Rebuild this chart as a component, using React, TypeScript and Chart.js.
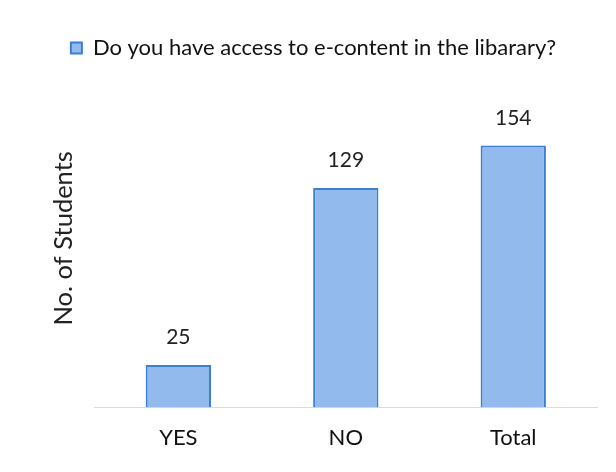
import React, { useEffect, useRef } from "react";
import { Chart, registerables } from "chart.js";

Chart.register(...registerables);

const categories = ["YES", "NO", "Total"];
const students = [25, 129, 154];
const seriesLabel = "Do you have access to e-content in the libarary?";
const yTitle = "No. of Students";

const FONT = "Lato, 'Open Sans', sans-serif";

const valueLabels = {
  id: "valueLabels",
  afterDatasetsDraw(chart: any) {
    const ctx = chart.ctx;
    const meta = chart.getDatasetMeta(0);
    ctx.save();
    ctx.font = `21px ${FONT}`;
    ctx.fillStyle = "#222";
    ctx.textAlign = "center";
    ctx.textBaseline = "bottom";
    meta.data.forEach((bar: any, i: number) => {
      ctx.fillText(String(chart.data.datasets[0].data[i]), bar.x, bar.y - 17);
    });
    ctx.restore();
  },
};

export default function App() {
  const ref = useRef<HTMLCanvasElement>(null);
  useEffect(() => {
    const chart = new Chart(ref.current!, {
      type: "bar",
      data: {
        labels: categories,
        datasets: [
          {
            label: seriesLabel,
            data: students,
            backgroundColor: "#93baec",
            borderColor: "#3b7fd2",
            borderWidth: 2,
            barPercentage: 0.39,
            categoryPercentage: 1,
          },
        ],
      },
      plugins: [valueLabels],
      options: {
        animation: false,
        responsive: false,
        layout: { padding: { left: 22, right: 11, top: 0, bottom: 4 } },
        plugins: {
          legend: {
            display: true,
            position: "top",
            labels: {
              font: { family: FONT, size: 22 },
              color: "#111",
              boxWidth: 11,
              boxHeight: 11,
              padding: 29,
            },
          },
          tooltip: { enabled: false },
        },
        scales: {
          x: {
            grid: { display: false, drawTicks: false, tickLength: 0 },
            border: { display: true, color: "#e3d9d9", width: 1 },
            ticks: { font: { family: FONT, size: 22 }, color: "#111", padding: 17 },
          },
          y: {
            min: 0,
            max: 199,
            grid: { display: false },
            border: { display: false },
            ticks: { display: false },
            title: {
              display: true,
              text: yTitle,
              font: { family: FONT, size: 25.5 },
              color: "#222",
              padding: { top: 18, bottom: 8 },
            },
          },
        },
      },
    });
    return () => chart.destroy();
  }, []);
  return (
    <div style={{ width: 600, height: 464 }}>
      <canvas ref={ref} width={600} height={464} />
    </div>
  );
}
